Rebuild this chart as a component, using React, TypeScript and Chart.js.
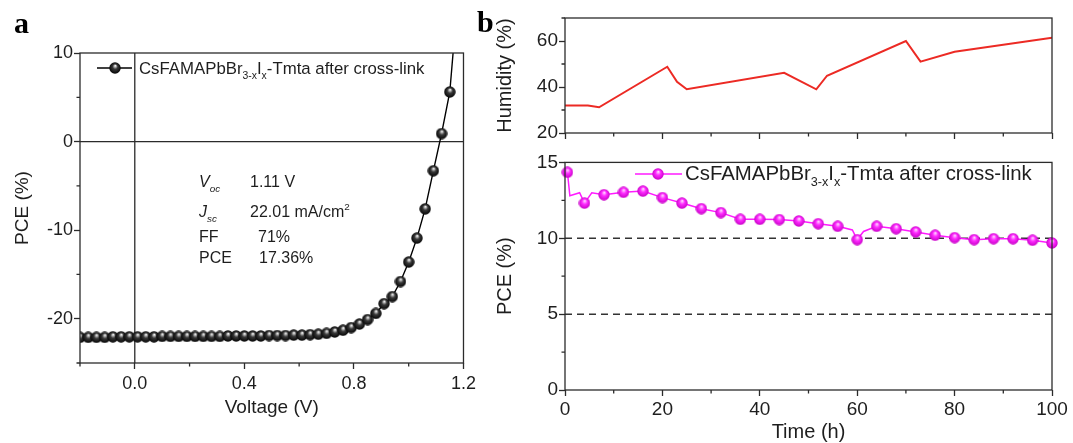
import React, { useEffect, useRef } from "react";
import { Chart, registerables } from "chart.js";

Chart.register(...registerables);

const FAMILY = '"Liberation Sans", Arial, Helvetica, sans-serif';
const SERIF = '"Liberation Serif", "Times New Roman", serif';
const AXIS = "#2b2b2b";
const TEXT = "#1e1e1e";
Chart.defaults.font.family = FAMILY;
Chart.defaults.color = TEXT;

// ---------- Panel a : J–V curve ----------
const voltage = [
  -0.2, -0.17, -0.14, -0.11, -0.08, -0.05, -0.02, 0.01, 0.04, 0.07, 0.1, 0.13,
  0.16, 0.19, 0.22, 0.25, 0.28, 0.31, 0.34, 0.37, 0.4, 0.43, 0.46, 0.49, 0.52,
  0.55, 0.58, 0.61, 0.64, 0.67, 0.7, 0.73, 0.76, 0.79, 0.82, 0.85, 0.88, 0.91,
  0.94, 0.97, 1.0, 1.03, 1.06, 1.09, 1.12, 1.15,
];
const currentDensity = [
  -22.1, -22.1, -22.1, -22.1, -22.05, -22.05, -22.05, -22.05, -22.05, -22.05,
  -22.0, -22.0, -22.0, -22.0, -22.0, -22.0, -22.0, -22.0, -21.95, -21.95,
  -21.95, -21.95, -21.95, -21.9, -21.9, -21.9, -21.85, -21.85, -21.8, -21.75,
  -21.65, -21.5, -21.3, -21.0, -20.6, -20.1, -19.4, -18.3, -17.5, -15.8,
  -13.6, -10.9, -7.6, -3.3, 0.9, 5.6,
];
// the fitted line continues past the last marker to the top of the frame
const jvLineEndV = [1.162];
const jvLineEndJ = [10];
const voltageTicks = [0, 0.4, 0.8, 1.2];
const voltageMinorTicks = [-0.2, 0.2, 0.6, 1.0];
const jTicks = [-20, -10, 0, 10];
const jMinorTicks = [-25, -15, -5, 5];

const paramNames = ["V", "J", "FF", "PCE"];
const paramSubs = ["oc", "sc", "", ""];
const paramValues = ["1.11 V", "22.01 mA/cm", "71%", "17.36%"];
const paramSups = ["", "2", "", ""];

// ---------- Panel b : stability ----------
const humidityTime = [0, 4.7, 7, 21, 23, 25, 45, 51.6, 53.8, 70, 73, 80, 100];
const humidityValue = [32, 32, 31.2, 48.8, 42.3, 39, 46.2, 39, 44.9, 60, 51, 55.3, 61.4];
const humidityTicks = [20, 40, 60];
const humidityMinorTicks = [30, 50, 70];

const pceTime = [
  0.5, 1.0, 3.0, 4, 5.5, 8, 12, 16, 20, 24, 28, 32, 36, 40, 44, 48, 52, 56, 59,
  60, 61.3, 64, 68, 72, 76, 80, 84, 88, 92, 96, 100,
];
const pceValue = [
  14.35, 12.8, 13.0, 12.32, 13.0, 12.87, 13.03, 13.11, 12.68, 12.32, 11.95,
  11.69, 11.25, 11.25, 11.23, 11.14, 10.96, 10.79, 10.55, 9.91, 10.45, 10.79,
  10.63, 10.42, 10.2, 10.04, 9.91, 9.97, 9.97, 9.87, 9.69,
];
const pceMarked = [
  true, false, false, true, false, true, true, true, true, true, true, true,
  true, true, true, true, true, true, false, true, false, true, true, true,
  true, true, true, true, true, true, true,
];
const pceTicks = [0, 5, 10, 15];
const pceMinorTicks = [2.5, 7.5, 12.5];
const timeTicks = [0, 20, 40, 60, 80, 100];
const timeMinorTicks = [10, 30, 50, 70, 90];
const referenceLevels = [10, 5];

type Part = { t: string; sub?: boolean; sup?: boolean; italic?: boolean };
const legendParts: Part[] = [
  { t: "CsFAMAPbBr" },
  { t: "3-x", sub: true },
  { t: "I" },
  { t: "x", sub: true },
  { t: "-Tmta after cross-link" },
];

function drawRich(ctx: CanvasRenderingContext2D, x: number, y: number, parts: Part[], size: number) {
  let cx = x;
  ctx.textBaseline = "alphabetic";
  ctx.textAlign = "left";
  for (const p of parts) {
    const s = p.sub || p.sup ? size * 0.62 : size;
    ctx.font = `${p.italic ? "italic " : ""}${s}px ${FAMILY}`;
    const dy = p.sub ? size * 0.3 : p.sup ? -size * 0.45 : 0;
    ctx.fillText(p.t, cx, y + dy);
    cx += ctx.measureText(p.t).width;
  }
}

function makeSphere(size: number, hi: string, mid: string, edge: string) {
  const c = document.createElement("canvas");
  c.width = size;
  c.height = size;
  const g = c.getContext("2d")!;
  const r = size / 2;
  const grad = g.createRadialGradient(r * 1.05, r * 0.62, r * 0.05, r, r, r);
  grad.addColorStop(0, hi);
  grad.addColorStop(0.4, mid);
  grad.addColorStop(1, edge);
  g.fillStyle = grad;
  g.beginPath();
  g.arc(r, r, r - 0.3, 0, Math.PI * 2);
  g.fill();
  return c;
}

const MINOR = 3.5;
function makeFrame(cfg: { minorX: number[]; minorY: number[]; zero?: boolean }) {
  return {
    id: "frame",
    beforeDatasetsDraw(chart: any) {
      if (!cfg.zero) return;
      const { ctx, chartArea: a, scales } = chart;
      ctx.save();
      ctx.strokeStyle = AXIS;
      ctx.lineWidth = 1.3;
      ctx.beginPath();
      const px = scales.x.getPixelForValue(0);
      ctx.moveTo(px, a.top);
      ctx.lineTo(px, a.bottom);
      const py = scales.y.getPixelForValue(0);
      ctx.moveTo(a.left, py);
      ctx.lineTo(a.right, py);
      ctx.stroke();
      ctx.restore();
    },
    afterDatasetsDraw(chart: any) {
      const { ctx, chartArea: a, scales } = chart;
      ctx.save();
      ctx.strokeStyle = AXIS;
      ctx.lineWidth = 1.3;
      ctx.strokeRect(a.left, a.top, a.right - a.left, a.bottom - a.top);
      ctx.beginPath();
      for (const v of cfg.minorX) {
        const px = scales.x.getPixelForValue(v);
        ctx.moveTo(px, a.bottom);
        ctx.lineTo(px, a.bottom + MINOR);
      }
      for (const v of cfg.minorY) {
        const py = scales.y.getPixelForValue(v);
        ctx.moveTo(a.left, py);
        ctx.lineTo(a.left - MINOR, py);
      }
      ctx.stroke();
      ctx.restore();
    },
  };
}

function axisX(min: number, max: number, ticks: number[], height: number, opts: any) {
  return {
    type: "linear",
    min,
    max,
    afterBuildTicks: (s: any) => {
      s.ticks = ticks.map((v) => ({ value: v }));
    },
    afterFit: (s: any) => {
      s.height = height;
    },
    grid: { drawOnChartArea: false, tickLength: 6, tickColor: AXIS, tickWidth: 1.3 },
    border: { display: false },
    ...opts,
  };
}
function axisY(min: number, max: number, ticks: number[], width: number, opts: any) {
  return {
    type: "linear",
    min,
    max,
    afterBuildTicks: (s: any) => {
      s.ticks = ticks.map((v) => ({ value: v }));
    },
    afterFit: (s: any) => {
      s.width = width;
    },
    grid: { drawOnChartArea: false, tickLength: 6, tickColor: AXIS, tickWidth: 1.3 },
    border: { display: false },
    ...opts,
  };
}

const baseOptions = {
  responsive: false,
  animation: false,
  events: [],
  plugins: { legend: { display: false }, tooltip: { enabled: false } },
};

export default function App() {
  const refA = useRef<HTMLCanvasElement>(null);
  const refH = useRef<HTMLCanvasElement>(null);
  const refP = useRef<HTMLCanvasElement>(null);

  useEffect(() => {
    const black = makeSphere(12, "#f4f4f4", "#3a3a3a", "#000000");
    const pink = makeSphere(12, "#ffd6ff", "#ff2bff", "#c400c4");

    const annotA = {
      id: "annotA",
      afterDatasetsDraw(chart: any) {
        const ctx: CanvasRenderingContext2D = chart.ctx;
        ctx.save();
        ctx.fillStyle = "#000";
        ctx.font = `bold 30px ${SERIF}`;
        ctx.textBaseline = "alphabetic";
        ctx.fillText("a", 14, 33);
        // legend
        ctx.strokeStyle = "#000";
        ctx.lineWidth = 1.4;
        ctx.beginPath();
        ctx.moveTo(97, 68);
        ctx.lineTo(132, 68);
        ctx.stroke();
        ctx.drawImage(black, 115 - black.width / 2, 68 - black.height / 2);
        ctx.fillStyle = TEXT;
        drawRich(ctx, 139, 74, legendParts, 16.8);
        // parameters
        const baselines = [187, 217, 242, 263];
        const valueX = [250, 250, 258, 259];
        paramNames.forEach((n, i) => {
          const italic = paramSubs[i] !== "";
          drawRich(ctx, 199, baselines[i], [{ t: n, italic }, { t: paramSubs[i], sub: true, italic }], 16);
          drawRich(ctx, valueX[i], baselines[i], [{ t: paramValues[i] }, { t: paramSups[i], sup: true }], 16);
        });
        ctx.restore();
      },
    };

    const chartA = new Chart(refA.current!, {
      type: "scatter",
      data: {
        datasets: [
          {
            data: [
              ...voltage.map((v, i) => ({ x: v, y: currentDensity[i] })),
              ...jvLineEndV.map((v, i) => ({ x: v, y: jvLineEndJ[i] })),
            ],
            showLine: true,
            borderColor: "#000",
            borderWidth: 1.4,
            pointStyle: black as any,
            pointRadius: (c: any) => (c.dataIndex < voltage.length ? 6 : 0),
          },
        ],
      },
      options: {
        ...baseOptions,
        layout: { padding: { top: 53, right: 16, left: 0, bottom: 0 } },
        scales: {
          x: axisX(-0.2, 1.2, voltageTicks, 80, {
            ticks: { font: { size: 18 }, color: TEXT, padding: 4, callback: (v: any) => Number(v).toFixed(1) },
            title: { display: true, text: "Voltage (V)", font: { size: 19 }, color: TEXT, padding: { top: 0, bottom: 24 } },
          }),
          y: axisY(-25, 10, jTicks, 80, {
            ticks: { font: { size: 18 }, color: TEXT, padding: 1, callback: (v: any) => String(v) },
            title: { display: true, text: "PCE (%)", font: { size: 19 }, color: TEXT, padding: { top: 11, bottom: 0 } },
          }),
        },
      } as any,
      plugins: [makeFrame({ minorX: voltageMinorTicks, minorY: jMinorTicks, zero: true }), annotA] as any,
    });

    const annotH = {
      id: "annotH",
      afterDatasetsDraw(chart: any) {
        const ctx: CanvasRenderingContext2D = chart.ctx;
        ctx.save();
        ctx.fillStyle = "#000";
        ctx.font = `bold 30px ${SERIF}`;
        ctx.textBaseline = "alphabetic";
        ctx.fillText("b", 7, 32);
        ctx.restore();
      },
    };

    const chartH = new Chart(refH.current!, {
      type: "scatter",
      data: {
        datasets: [
          {
            data: humidityTime.map((t, i) => ({ x: t, y: humidityValue[i] })),
            showLine: true,
            borderColor: "#ec2a24",
            borderWidth: 2,
            pointRadius: 0,
          },
        ],
      },
      options: {
        ...baseOptions,
        layout: { padding: { top: 18, right: 21, left: 0, bottom: 0 } },
        scales: {
          x: axisX(0, 100, timeTicks, 17, { ticks: { display: false } }),
          y: axisY(20, 70, humidityTicks, 95, {
            ticks: { font: { size: 19 }, color: TEXT, padding: 1 },
            title: { display: true, text: "Humidity (%)", font: { size: 20 }, color: TEXT, padding: { top: 23, bottom: 0 } },
          }),
        },
      } as any,
      plugins: [makeFrame({ minorX: timeMinorTicks, minorY: humidityMinorTicks }), annotH] as any,
    });

    const annotP = {
      id: "annotP",
      afterDatasetsDraw(chart: any) {
        const ctx: CanvasRenderingContext2D = chart.ctx;
        ctx.save();
        ctx.strokeStyle = "#ff1aff";
        ctx.lineWidth = 1.5;
        ctx.beginPath();
        ctx.moveTo(165, 24);
        ctx.lineTo(212, 24);
        ctx.stroke();
        ctx.drawImage(pink, 188 - pink.width / 2, 24 - pink.height / 2);
        ctx.fillStyle = TEXT;
        drawRich(ctx, 215, 30, legendParts, 20.4);
        ctx.restore();
      },
    };

    const chartP = new Chart(refP.current!, {
      type: "scatter",
      data: {
        datasets: [
          {
            data: pceTime.map((t, i) => ({ x: t, y: pceValue[i] })),
            showLine: true,
            borderColor: "#ff1aff",
            borderWidth: 1.5,
            pointStyle: pink as any,
            pointRadius: (c: any) => (pceMarked[c.dataIndex] ? 6 : 0),
            clip: false,
          },
          ...referenceLevels.map((lv) => ({
            data: [
              { x: timeTicks[0], y: lv },
              { x: timeTicks[timeTicks.length - 1], y: lv },
            ],
            showLine: true,
            borderColor: "#333",
            borderWidth: 1.5,
            borderDash: [7, 5],
            pointRadius: 0,
          })),
        ],
      },
      options: {
        ...baseOptions,
        layout: { padding: { top: 12, right: 21, left: 0, bottom: 0 } },
        scales: {
          x: axisX(0, 100, timeTicks, 53, {
            ticks: { font: { size: 19 }, color: TEXT, padding: 2 },
            title: { display: true, text: "Time (h)", font: { size: 20, lineHeight: 1.1 }, color: TEXT, padding: { top: 0, bottom: 0 } },
          }),
          y: axisY(0, 15, pceTicks, 95, {
            ticks: { font: { size: 19 }, color: TEXT, padding: 1 },
            title: { display: true, text: "PCE (%)", font: { size: 20 }, color: TEXT, padding: { top: 23, bottom: 0 } },
          }),
        },
      } as any,
      plugins: [makeFrame({ minorX: timeMinorTicks, minorY: pceMinorTicks }), annotP] as any,
    });

    return () => {
      chartA.destroy();
      chartH.destroy();
      chartP.destroy();
    };
  }, []);

  return (
    <div style={{ position: "absolute", left: 0, top: 0, width: 1073, height: 443, background: "#fff", overflow: "hidden" }}>
      <canvas ref={refA} width={480} height={443} style={{ position: "absolute", left: 0, top: 0 }} />
      <canvas ref={refH} width={603} height={150} style={{ position: "absolute", left: 470, top: 0 }} />
      <canvas ref={refP} width={603} height={293} style={{ position: "absolute", left: 470, top: 150 }} />
    </div>
  );
}
